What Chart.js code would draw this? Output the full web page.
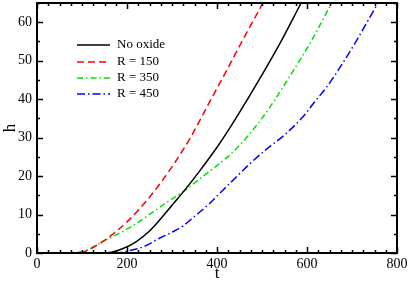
<!DOCTYPE html>
<html>
<head>
<meta charset="utf-8">
<script src="https://cdn.jsdelivr.net/npm/chart.js@4.4.1/dist/chart.umd.min.js"></script>
<style>
  html, body { margin: 0; padding: 0; background: #fff; }
  #wrap { width: 409px; height: 284px; }
</style>
</head>
<body>
<div id="wrap"><canvas id="growth-chart" width="409" height="284"></canvas></div>
<script>
// 數據：由圖上讀取的 (t, h) 點
const tNoOxide = [0, 150, 165, 190, 220, 250, 275, 300, 330, 360, 400, 430, 470, 510, 545, 587, 610];
const hNoOxide = [0, 0, 0.2, 1.1, 2.9, 5.7, 8.9, 12.4, 16.6, 21.1, 27.5, 32.8, 40.4, 48.3, 55.6, 65, 70];

const tR150 = [0, 95, 110, 125, 150, 200, 250, 300, 340, 380, 422, 460, 502, 520];
const hR150 = [0, 0, 0.6, 1.5, 3.3, 8.1, 14.5, 22.4, 29.8, 38.5, 47.6, 56, 65, 69];

const tR350 = [0, 80, 100, 115, 140, 184, 220, 251, 290, 329, 362, 395, 422, 450, 473, 511, 547, 580, 611, 655, 680];
const hR350 = [0, 0, 0.4, 0.9, 2.6, 5.2, 7.6, 10.1, 13.3, 16.3, 19.3, 22.3, 24.8, 28, 31, 36.8, 43.2, 49.4, 55.4, 65, 70];

const tR450 = [0, 175, 200, 236, 273, 300, 324, 350, 380, 400, 424, 450, 473, 513, 547, 591, 615, 644, 680, 711, 758, 780];
const hR450 = [0, 0, 0.5, 1.6, 3.9, 5.4, 7.0, 9.5, 12.5, 14.8, 17.6, 20.6, 23.2, 27.3, 30.4, 35.4, 39, 43.2, 49.5, 55.4, 65, 69];

const xTicks = [0, 200, 400, 600, 800];
const yTicks = [0, 10, 20, 30, 40, 50, 60];

const SERIF = '"Liberation Serif", "DejaVu Serif", serif';

function toPoints(xs, ys) {
    return xs.map((x, i) => ({ x: x, y: ys[i] }));
}

// 框線、內向刻度、圖例
const framePlugin = {
    id: 'frame',
    afterDatasetsDraw(chart) {
        const { ctx, chartArea: a, scales } = chart;
        const xs = scales.x, ys = scales.y;
        ctx.save();
        ctx.strokeStyle = '#000';
        ctx.lineWidth = 1.5;
        ctx.beginPath();
        // x 刻度：主刻度每 200，次刻度每 25
        for (let v = 0; v <= 800; v += 25) {
            const px = Math.round(xs.getPixelForValue(v)) + 0.5;
            const len = v % 200 === 0 ? 6 : 3;
            ctx.moveTo(px, a.bottom); ctx.lineTo(px, a.bottom - len);
            ctx.moveTo(px, a.top); ctx.lineTo(px, a.top + len);
        }
        // y 刻度：主刻度每 10，次刻度每 5
        for (let v = 0; v <= 65; v += 5) {
            const py = Math.round(ys.getPixelForValue(v)) + 0.5;
            const len = v % 10 === 0 ? 6 : 3;
            ctx.moveTo(a.left, py); ctx.lineTo(a.left + len, py);
            ctx.moveTo(a.right, py); ctx.lineTo(a.right - len, py);
        }
        ctx.stroke();
        ctx.lineWidth = 2;
        ctx.strokeRect(a.left, a.top, a.right - a.left, a.bottom - a.top);

        // 圖例
        const rows = [45, 62, 78, 94];
        ctx.font = '13px ' + SERIF;
        ctx.textBaseline = 'middle';
        ctx.fillStyle = '#000';
        chart.data.datasets.forEach((ds, i) => {
            const y = rows[i];
            ctx.strokeStyle = ds.borderColor;
            ctx.lineWidth = ds.borderWidth;
            ctx.setLineDash(ds.borderDash || []);
            ctx.beginPath();
            ctx.moveTo(77, y); ctx.lineTo(110, y);
            ctx.stroke();
            ctx.setLineDash([]);
            ctx.fillText(ds.label, 117, y);
        });
        ctx.restore();
    }
};

const datasets = [
    { label: 'No oxide', data: toPoints(tNoOxide, hNoOxide), borderColor: '#000000', borderWidth: 1.5, borderDash: [] },
    { label: 'R = 150', data: toPoints(tR150, hR150), borderColor: '#ff0000', borderWidth: 1.5, borderDash: [7, 4] },
    { label: 'R = 350', data: toPoints(tR350, hR350), borderColor: '#00e000', borderWidth: 1.5, borderDash: [6, 3, 1.5, 3] },
    { label: 'R = 450', data: toPoints(tR450, hR450), borderColor: '#0000ff', borderWidth: 1.5, borderDash: [8, 3, 1.5, 3] }
];

new Chart(document.getElementById('growth-chart'), {
    type: 'scatter',
    data: {
        datasets: datasets.map(d => ({
            ...d,
            showLine: true,
            pointRadius: 0,
            fill: false,
            cubicInterpolationMode: 'monotone'
        }))
    },
    options: {
        responsive: false,
        animation: false,
        devicePixelRatio: 1,
        layout: { padding: { left: 0, right: 12, top: 3, bottom: 0 } },
        plugins: { legend: { display: false }, tooltip: { enabled: false } },
        scales: {
            x: {
                type: 'linear',
                min: 0, max: 800,
                afterBuildTicks: s => { s.ticks = xTicks.map(v => ({ value: v })); },
                afterFit: s => { s.height = 31; s.paddingLeft = 0; s.paddingRight = 0; },
                grid: { display: false, drawTicks: false },
                border: { display: false },
                ticks: { font: { family: SERIF, size: 14 }, color: '#000', padding: 3, maxRotation: 0 },
                title: { display: true, text: 't', font: { family: SERIF, size: 17 }, color: '#000', padding: 0 }
            },
            y: {
                type: 'linear',
                min: 0, max: 65,
                afterBuildTicks: s => { s.ticks = yTicks.map(v => ({ value: v })); },
                afterFit: s => { s.width = 37; s.paddingTop = 0; s.paddingBottom = 0; },
                grid: { display: false, drawTicks: false },
                border: { display: false },
                ticks: { font: { family: SERIF, size: 14 }, color: '#000', padding: 5 },
                title: { display: true, text: 'h', font: { family: SERIF, size: 17 }, color: '#000', padding: 0 }
            }
        }
    },
    plugins: [framePlugin]
});
</script>
</body>
</html>
